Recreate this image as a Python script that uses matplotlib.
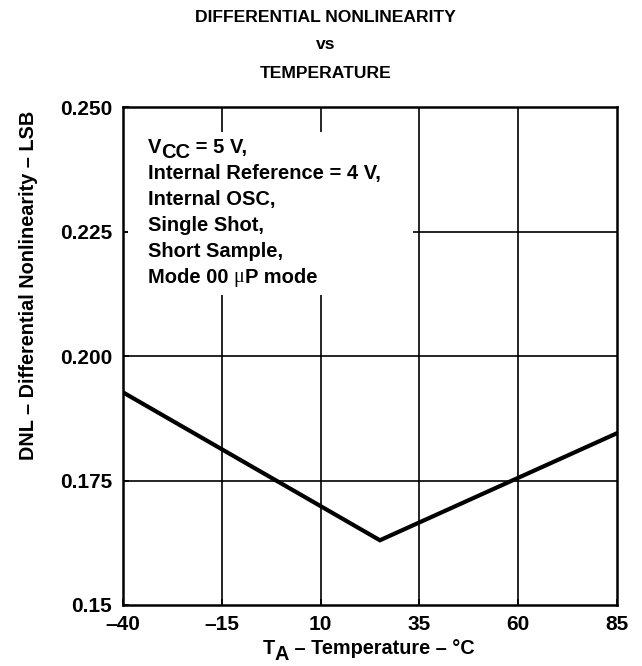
import matplotlib
matplotlib.use('Agg')
import matplotlib.pyplot as plt
from matplotlib import font_manager
from matplotlib.patches import Rectangle

plt.rcParams['font.family'] = ['Liberation Sans', 'DejaVu Sans']
plt.rcParams['font.weight'] = 'bold'

# data
temp_c = [-40, 25, 85]
dnl_lsb = [0.1927, 0.163, 0.1845]

x_ticks = [-40, -15, 10, 35, 60, 85]
x_tick_labels = ['\u201340', '\u201315', '10', '35', '60', '85']
y_ticks = [0.15, 0.175, 0.200, 0.225, 0.250]
y_tick_labels = ['0.15', '0.175', '0.200', '0.225', '0.250']

notes = ['Internal Reference = 4 V,', 'Internal OSC,', 'Single Shot,',
         'Short Sample,']

# title in the reference is a condensed face
try:
    font_manager.findfont(font_manager.FontProperties(family='Liberation Sans Narrow',
                                                      weight='bold'),
                          fallback_to_default=False)
    title_font, title_size = 'Liberation Sans Narrow', 14.5
except ValueError:
    title_font, title_size = 'Liberation Sans', 12.6

fig = plt.figure(figsize=(6.42, 6.66), dpi=100)
ax = fig.add_axes([0.1916, 0.0916, 0.7695, 0.7477])

ax.set_xlim(-40, 85)
ax.set_ylim(0.15, 0.25)

# grid drawn by hand so the note box can cover it but not the ticks
ax.vlines(x_ticks[1:-1], 0.15, 0.25, colors='black', linewidth=1.2, zorder=1)
ax.hlines(y_ticks[1:-1], -40, 85, colors='black', linewidth=1.2, zorder=1)
ax.add_patch(Rectangle((0.01, 0.622), 0.577, 0.328, transform=ax.transAxes,
                       facecolor='white', edgecolor='none', zorder=2))

ax.plot(temp_c, dnl_lsb, color='black', linewidth=3.0, zorder=3,
        solid_joinstyle='miter')

ax.set_xticks(x_ticks)
ax.set_xticklabels(x_tick_labels)
ax.set_yticks(y_ticks)
ax.set_yticklabels(y_tick_labels)
ax.tick_params(direction='in', length=4, width=1.2, labelsize=15)
ax.tick_params(axis='x', pad=7)
ax.tick_params(axis='y', pad=8)
for lab in ax.get_xticklabels() + ax.get_yticklabels():
    lab.set_fontweight('bold')
for sp in ax.spines.values():
    sp.set_linewidth(1.8)

for yy, s in zip([0.973, 0.933, 0.890],
                 ['DIFFERENTIAL NONLINEARITY', 'vs', 'TEMPERATURE']):
    fig.text(0.507, yy, s, ha='center', va='center', fontsize=title_size,
             fontweight='bold', family=[title_font, 'DejaVu Sans'])

fig.text(0.044, 0.571, 'DNL \u2013 Differential Nonlinearity \u2013 LSB',
         rotation=90, ha='center', va='center', fontsize=14.3, fontweight='bold')

# x label with lowered subscript
lab_fs = 14.3
t1 = fig.text(0.409, 0.0125, 'T', ha='left', va='bottom', fontsize=lab_fs,
              fontweight='bold')
t2 = ax.annotate('A', xy=(1, 0), xycoords=t1, xytext=(0, -4.5),
                 textcoords='offset points', ha='left', va='bottom',
                 fontsize=lab_fs, fontweight='bold')
ax.annotate(' \u2013 Temperature \u2013 \u00b0C', xy=(1, 0), xycoords=t2,
            xytext=(0, 4.5), textcoords='offset points', ha='left',
            va='bottom', fontsize=lab_fs, fontweight='bold')

# note block
note_fs = 14.5
x0 = 0.05
line_h = 0.0522
y0 = 0.9076
v1 = ax.text(x0, y0, 'V', transform=ax.transAxes, ha='left', va='baseline',
             fontsize=note_fs, fontweight='bold', zorder=4)
v2 = ax.annotate('CC', xy=(1, 0), xycoords=v1, xytext=(0, -3.5),
                 textcoords='offset points', ha='left', va='bottom',
                 fontsize=note_fs, fontweight='bold', zorder=4)
ax.annotate(' = 5 V,', xy=(1, 0), xycoords=v2, xytext=(0, 3.5),
            textcoords='offset points', ha='left', va='bottom',
            fontsize=note_fs, fontweight='bold', zorder=4)
for i, s in enumerate(notes):
    ax.text(x0, y0 - (i + 1) * line_h, s, transform=ax.transAxes,
            ha='left', va='baseline', fontsize=note_fs, fontweight='bold',
            zorder=4)
m1 = ax.text(x0, y0 - 5 * line_h, 'Mode 00 ', transform=ax.transAxes,
             ha='left', va='baseline', fontsize=note_fs, fontweight='bold',
             zorder=4)
m2 = ax.annotate('\u03bc', xy=(1, 0), xycoords=m1, ha='left', va='bottom',
                 fontsize=note_fs, family='Liberation Serif',
                 fontweight='normal', zorder=4)
ax.annotate('P mode', xy=(1, 0), xycoords=m2, ha='left', va='bottom',
            fontsize=note_fs, fontweight='bold', zorder=4)

fig.savefig('out.png', dpi=100)
